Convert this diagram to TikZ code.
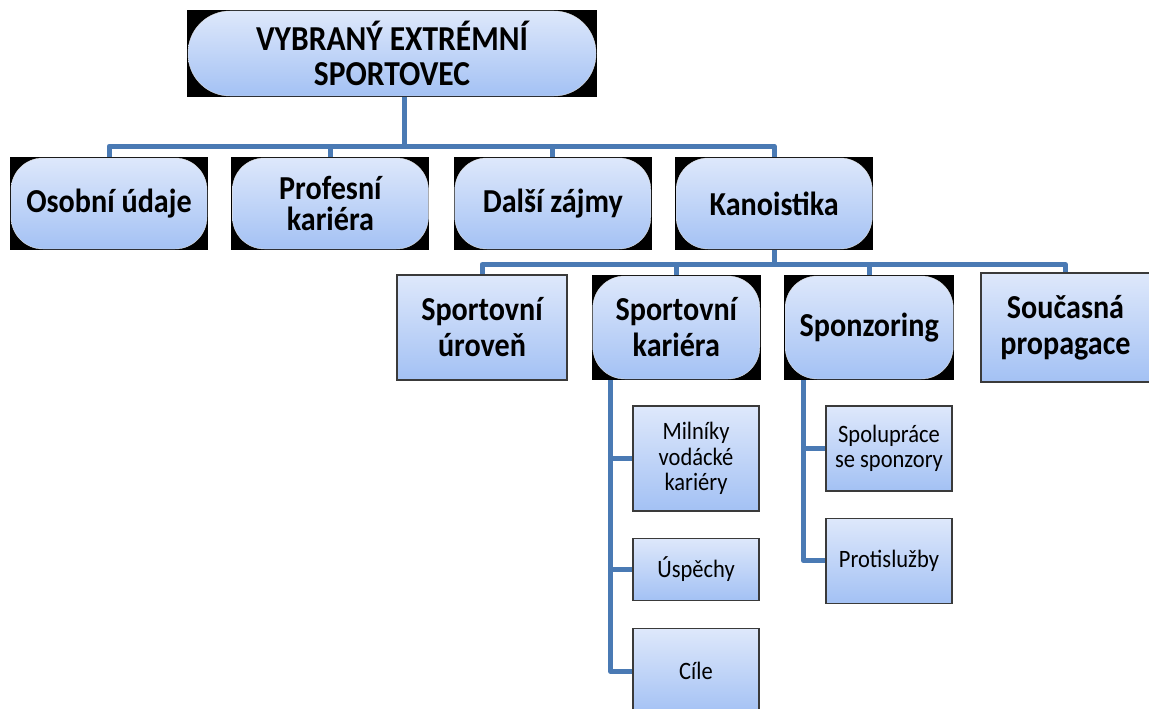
\documentclass[tikz,border=0pt]{standalone}
\usepackage{fontspec}
\setmainfont{Carlito}[FakeStretch=0.9]
\usepackage{tikz}
\usetikzlibrary{positioning, calc}
\definecolor{PaleBlue}{HTML}{DEE8FB}
\definecolor{SoftBlue}{HTML}{A3C1F4}
\definecolor{LinkBlue}{HTML}{4A7AB4}
\definecolor{EdgeGray}{HTML}{3A3A3A}

\begin{document}
\begin{tikzpicture}[x=1pt, y=-1pt,
    link/.style={draw=LinkBlue, line width=5pt, line join=round},
    bigtext/.style={font=\bfseries\fontsize{33.5}{31}\selectfont, align=center},
    toptext/.style={font=\bfseries\fontsize{35}{35}\selectfont, align=center},
    smalltext/.style={font=\fontsize{25}{25.5}\selectfont, align=center},
    pill/.style={bigtext, fill=black, inner sep=0pt,
        path picture={\shade[top color=PaleBlue, bottom color=SoftBlue,
            draw=white!75!gray, rounded corners=#1]
            ([shift={(1pt,1pt)}]path picture bounding box.south west) rectangle
            ([shift={(-1pt,-1pt)}]path picture bounding box.north east);}},
    pill/.default=32pt,
    plainbox/.style={bigtext, draw=EdgeGray, line width=1.2pt,
        top color=PaleBlue, bottom color=SoftBlue, inner sep=0pt},
    leafbox/.style={smalltext, draw=EdgeGray, line width=1.2pt,
        top color=PaleBlue, bottom color=SoftBlue, inner sep=0pt,
        minimum width=126pt}]
\clip (0,0) rectangle (1149,709);

% top
\node[pill=42pt, toptext, minimum width=410pt, minimum height=87pt] (sportovec) at (392,53.5)
    {VYBRANÝ EXTRÉMNÍ\\SPORTOVEC};

% second row
\node[pill, minimum width=198pt, minimum height=93pt] (osobni) at (109,203.5) {Osobní údaje};
\node[pill, minimum width=198pt, minimum height=93pt, right=23pt of osobni] (profesni) {Profesní\\kariéra};
\node[pill, minimum width=198pt, minimum height=93pt, right=24pt of profesni] (dalsi) {Další zájmy};
\node[pill, minimum width=198pt, minimum height=93pt, right=23pt of dalsi] (kanoistika) {Kanoistika};

% third row
\node[plainbox, minimum width=170pt, minimum height=105pt] (uroven) at (482,327.5) {Sportovní\\[5pt]úroveň};
\node[pill, minimum width=169pt, minimum height=105pt, right=24pt of uroven] (kariera) {Sportovní\\[5pt]kariéra};
\node[pill, minimum width=170pt, minimum height=105pt, right=23pt of kariera] (sponzoring) {Sponzoring};
\node[plainbox, minimum width=169pt, minimum height=109pt, right=26pt of sponzoring] (propagace) {Současná\\[5pt]propagace};

% leaves
\node[leafbox, minimum height=105pt] (milniky) at (696,458.5) {Milníky\\vodácké\\kariéry};
\node[leafbox, minimum height=62pt, below=26pt of milniky] (uspechy) {Úspěchy};
\node[leafbox, minimum height=86pt, below=27pt of uspechy] (cile) {Cíle};
\node[leafbox, minimum height=85pt] (spoluprace) at (889,448.5) {Spolupráce\\se sponzory};
\node[leafbox, minimum height=85pt, below=26pt of spoluprace] (protisluzby) {Protislužby};

% connectors
\foreach \kid in {osobni, profesni, dalsi, kanoistika}
    \draw[link] ([xshift=12pt]sportovec.south) -- ++(0,49) -| (\kid.north);
\foreach \kid in {uroven, kariera, sponzoring, propagace}
    \draw[link] (kanoistika.south) -- ++(0,14.5) -| (\kid.north);
\foreach \kid in {milniky, uspechy, cile}
    \draw[link] ([xshift=-65.5pt]kariera.south) |- (\kid.west);
\foreach \kid in {spoluprace, protisluzby}
    \draw[link] ([xshift=-66pt]sponzoring.south) |- (\kid.west);
\end{tikzpicture}
\end{document}
